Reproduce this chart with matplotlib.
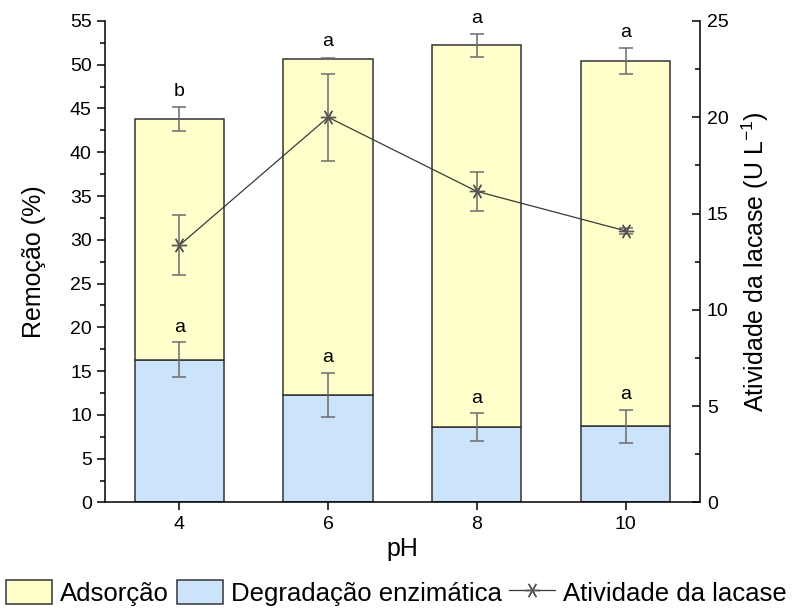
#!/usr/bin/env python3

"""Remoção por adsorção e degradação enzimática em diferentes pH."""

import matplotlib
matplotlib.use("Agg")
import matplotlib.pyplot as plt
from matplotlib.patches import Patch
from matplotlib.lines import Line2D
from matplotlib.ticker import MultipleLocator

ph = ["4", "6", "8", "10"]
remocao_total = [43.8, 50.7, 52.2, 50.4]
remocao_total_err = [1.35, 0.1, 1.3, 1.45]
degradacao = [16.3, 12.3, 8.6, 8.7]
degradacao_err = [2.0, 2.5, 1.6, 1.9]
atividade = [13.35, 20.0, 16.15, 14.1]
atividade_err = [1.55, 2.25, 1.0, 0.15]
letras_total = ["b", "a", "a", "a"]
letras_degr = ["a", "a", "a", "a"]

YELLOW = "#ffffcc"
BLUE = "#cce4fb"
EDGE = "#333333"
ERRC = "#6b6b6b"


def main():
    plt.rcParams.update({
        "font.family": ["Liberation Sans", "DejaVu Sans"],
        "font.size": 13,
        "axes.linewidth": 1.1,
    })
    fig = plt.figure(figsize=(7.93, 6.15), dpi=100)
    ax = fig.add_axes([0.1324, 0.183, 0.7503, 0.783])
    ax2 = ax.twinx()

    x = list(range(len(ph)))
    adsorcao = [t - d for t, d in zip(remocao_total, degradacao)]

    ax.bar(x, degradacao, width=0.6, color=BLUE, edgecolor=EDGE, linewidth=1.1, zorder=2)
    ax.bar(x, adsorcao, width=0.6, bottom=degradacao, color=YELLOW, edgecolor=EDGE,
           linewidth=1.1, zorder=2)
    ax.errorbar(x, remocao_total, yerr=remocao_total_err, fmt="none", ecolor=ERRC,
                elinewidth=1.1, capsize=5, capthick=1.1, zorder=3)
    ax.errorbar(x, degradacao, yerr=degradacao_err, fmt="none", ecolor=ERRC,
                elinewidth=1.1, capsize=5, capthick=1.1, zorder=3)

    for xi, t, e, s in zip(x, remocao_total, remocao_total_err, letras_total):
        ax.text(xi, t + e + 1.8, s, ha="center", va="center", fontsize=14)
    for xi, d, e, s in zip(x, degradacao, degradacao_err, letras_degr):
        ax.text(xi, d + e + 1.7, s, ha="center", va="center", fontsize=14)

    # Atividade da lacase (eixo direito)
    ax2.errorbar(x, atividade, yerr=atividade_err, fmt="none", ecolor=ERRC,
                 elinewidth=1.1, capsize=5, capthick=1.1, zorder=3)
    ax2.plot(x, atividade, "-", color="#3a3a3a", linewidth=0.9,
             marker=(6, 2, 90), markersize=11, markeredgecolor="#555555",
             markeredgewidth=1.0, zorder=4)

    ax.set_xlim(-0.5, 3.5)
    ax.set_ylim(0, 55)
    ax2.set_ylim(0, 25)
    ax.set_xticks(x)
    ax.set_xticklabels(ph)
    ax.yaxis.set_major_locator(MultipleLocator(5))
    ax.yaxis.set_minor_locator(MultipleLocator(2.5))
    ax2.yaxis.set_major_locator(MultipleLocator(5))
    ax2.yaxis.set_minor_locator(MultipleLocator(2.5))

    ax.tick_params(axis="both", which="major", direction="out", length=6, width=1.1,
                   labelsize=14)
    ax.tick_params(axis="y", which="minor", direction="out", length=3.5, width=1.1)
    ax2.tick_params(axis="y", which="major", direction="in", length=6, width=1.1,
                    labelsize=14, pad=5)
    ax2.tick_params(axis="y", which="minor", direction="in", length=3.5, width=1.1)

    ax.spines["top"].set_visible(False)
    ax.spines["right"].set_visible(False)
    for side in ["top", "left", "bottom"]:
        ax2.spines[side].set_visible(False)

    ax.set_xlabel("pH", fontsize=18, labelpad=3)
    ax.set_ylabel("Remoção (%)", fontsize=18, labelpad=17)
    ax2.set_ylabel("Atividade da lacase (U L$^{\\mathregular{-1}}$)", fontsize=18, labelpad=8)

    handles = [
        Patch(facecolor=YELLOW, edgecolor=EDGE, linewidth=1.1, label="Adsorção"),
        Patch(facecolor=BLUE, edgecolor=EDGE, linewidth=1.1, label="Degradação enzimática"),
        Line2D([], [], color="#3a3a3a", linewidth=0.9, marker=(6, 2, 90), markersize=11,
               markeredgecolor="#555555", label="Atividade da lacase"),
    ]
    fig.legend(handles=handles, loc="center", bbox_to_anchor=(0.5, 0.036), ncol=3,
               frameon=False, fontsize=18.5, handlelength=1.8, handleheight=1.1,
               handletextpad=0.3, columnspacing=0.3, borderpad=0.1)

    fig.savefig("out.png", dpi=100)
    plt.close(fig)


if __name__ == "__main__":
    main()
